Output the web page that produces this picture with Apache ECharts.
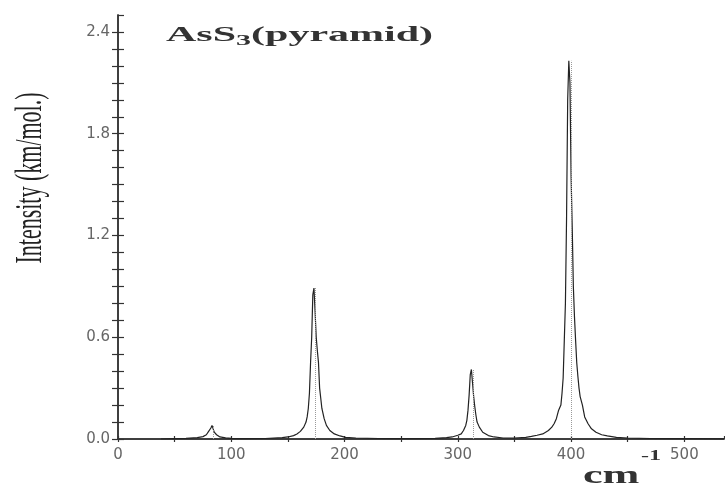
<!DOCTYPE html>
<html>
<head>
<meta charset="utf-8">
<script src="https://cdn.jsdelivr.net/npm/echarts@6/dist/echarts.min.js"></script>
<style>
html,body{margin:0;padding:0;background:#fff;}
#chart{width:725px;height:485px;}
</style>
</head>
<body>
<div id="chart"></div>
<script>
// Wavenumber (cm^-1) and intensity (km/mol.)
var wavenumber = [38,50,60,70,75,78,80,82,83,84,85,87,90,95,100,110,130,145,150,155,158,161,164,166,167,168,169,170,171,172,173,174,175,176,177,178,179,180,182,184,187,191,196,201,210,230,260,280,290,295,300,303,305,307,308,309,310,311,312,313,314,315,316,317,319,322,327,332,340,350,360,365,370,375,380,383,385,387,389,391,392,393,394,395,396,397,398,399,400,401,402,403,404,405,406,407,408,410,412,415,418,422,427,432,440,450,470,500,535];
var intensity  = [0,0.002,0.004,0.008,0.014,0.025,0.045,0.065,0.08,0.06,0.04,0.025,0.012,0.007,0.004,0.002,0.003,0.008,0.012,0.02,0.03,0.045,0.07,0.1,0.13,0.18,0.27,0.45,0.6,0.85,0.89,0.75,0.6,0.52,0.45,0.3,0.24,0.18,0.12,0.08,0.05,0.03,0.018,0.01,0.006,0.003,0.002,0.004,0.008,0.012,0.022,0.03,0.05,0.08,0.11,0.17,0.26,0.38,0.41,0.33,0.25,0.19,0.14,0.1,0.07,0.04,0.02,0.012,0.006,0.006,0.01,0.015,0.022,0.03,0.05,0.07,0.09,0.12,0.17,0.2,0.27,0.36,0.58,0.8,1.3,2.0,2.23,2.1,1.55,1.25,0.9,0.72,0.58,0.45,0.37,0.3,0.25,0.2,0.13,0.09,0.06,0.04,0.025,0.018,0.01,0.006,0.003,0.002,0.001,0.001];
// vertical dotted reference lines (calculated frequencies)
var refPositions = [84, 174.5, 313.5, 400.5];
var refHeights   = [0.08, 0.89, 0.41, 2.23];
// axis ticks
var xTicks = [0,100,200,300,400,500];
var yTicks = [0.0,0.6,1.2,1.8,2.4];
var titleText = 'AsS';
var titleSub = '3';
var titleRest = '(pyramid)';
var yName = 'Intensity (km/mol.)';
var xName = 'cm';
var xNameSup = '-1';
</script>
<script>
var data = [];
for (var i = 0; i < wavenumber.length && i < intensity.length; i++) data.push([wavenumber[i], intensity[i]]);
var refLines = refPositions.map(function (p, i) {
  return [{coord: [p, 0]}, {coord: [p, refHeights[i]]}];
});
var axisColor = '#333';
var labelColor = '#666';
function xFmt(v) { return xTicks.indexOf(Math.round(v)) >= 0 ? String(Math.round(v)) : ''; }
function yFmt(v) {
  var r = Math.round(v * 10) / 10;
  for (var k = 0; k < yTicks.length; k++) if (Math.abs(yTicks[k] - r) < 1e-6 && Math.abs(v - r) < 1e-6) return r.toFixed(1);
  return '';
}
var chart = echarts.init(document.getElementById('chart'), null, {renderer: 'canvas'});
var xBase = {type: 'value', min: 0, max: 535, interval: 50, position: 'bottom',
  axisLine: {show: true, lineStyle: {color: axisColor, width: 1.5}},
  splitLine: {show: false}};
var yBase = {type: 'value', min: 0, max: 2.5, interval: 0.1, position: 'left',
  axisLine: {show: true, lineStyle: {color: axisColor, width: 1.5}},
  splitLine: {show: false}};
chart.setOption({
  animation: false,
  backgroundColor: '#fff',
  grid: {left: 118, right: 1, top: 15, bottom: 46},
  xAxis: [
    Object.assign({}, xBase, {
      axisTick: {show: true, inside: false, length: 3, lineStyle: {color: axisColor, width: 1.2}},
      axisLabel: {show: true, formatter: xFmt, color: labelColor, fontFamily: 'DejaVu Sans', fontSize: 15, margin: 9, showMaxLabel: false}
    }),
    Object.assign({}, xBase, {
      axisTick: {show: true, inside: true, length: 3, lineStyle: {color: axisColor, width: 1.2}},
      axisLabel: {show: false}
    })
  ],
  yAxis: [
    Object.assign({}, yBase, {
      axisTick: {show: true, inside: false, length: 6, lineStyle: {color: axisColor, width: 1.2}},
      axisLabel: {show: true, formatter: yFmt, color: labelColor, fontFamily: 'DejaVu Sans', fontSize: 15, margin: 8, showMaxLabel: false}
    }),
    Object.assign({}, yBase, {
      axisTick: {show: true, inside: true, length: 6, lineStyle: {color: axisColor, width: 1.2}},
      axisLabel: {show: false}
    })
  ],
  series: [{
    type: 'line',
    data: data,
    xAxisIndex: 0, yAxisIndex: 0,
    showSymbol: false,
    symbol: 'none',
    lineStyle: {color: '#222', width: 1.2},
    markLine: {
      silent: true, symbol: 'none', label: {show: false},
      lineStyle: {color: '#9a9a9a', type: 'dotted', width: 1},
      data: refLines
    },
    z: 3
  }],
  graphic: [
    {type: 'text', x: 166, y: 36, scaleX: 2.0, z: 10,
     style: {text: '{a|' + titleText + '}{s|' + titleSub + '}{a|' + titleRest + '}',
       verticalAlign: 'middle', textVerticalAlign: 'middle', fill: '#333',
       rich: {
         a: {font: 'bold 21px "Liberation Serif"', fill: '#333', lineHeight: 26},
         s: {font: 'bold 15px "Liberation Serif"', fill: '#333', lineHeight: 18, verticalAlign: 'bottom'}
       }}},
    {type: 'text', x: 31, y: 178, rotation: Math.PI / 2, scaleY: 1.75, z: 10,
     style: {text: yName, font: '22px "Liberation Serif"', fill: '#222',
       align: 'center', textAlign: 'center', verticalAlign: 'middle', textVerticalAlign: 'middle'}},
    {type: 'text', x: 583, y: 476, scaleX: 1.7, z: 10,
     style: {text: xName, font: 'bold 26px "Liberation Serif"', fill: '#333',
       verticalAlign: 'middle', textVerticalAlign: 'middle'}},
    {type: 'text', x: 641, y: 456, scaleX: 1.6, z: 10,
     style: {text: xNameSup, font: 'bold 15px "Liberation Serif"', fill: '#333',
       verticalAlign: 'middle', textVerticalAlign: 'middle'}}
  ]
});
</script>
</body>
</html>
